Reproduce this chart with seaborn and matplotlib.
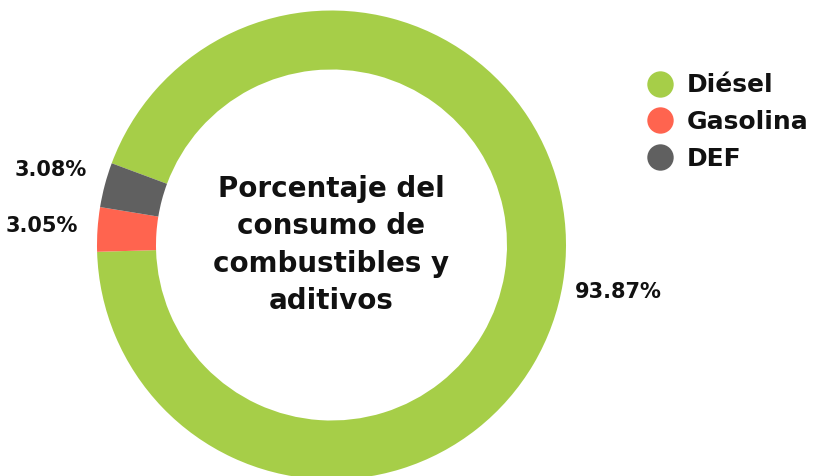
import matplotlib
matplotlib.use("Agg")
import matplotlib.pyplot as plt
from matplotlib.lines import Line2D
import seaborn as sns

# ── data ─────────────────────────────────────────────
categorias = ["Diésel", "Gasolina", "DEF"]
porcentajes = [93.87, 3.05, 3.08]
etiquetas = ["93.87%", "3.05%", "3.08%"]
colores = ["#A6CE48", "#FF644F", "#606060"]
titulo_centro = "Porcentaje del\nconsumo de\ncombustibles y\naditivos"

sns.set_theme(style="white")
plt.rcParams["font.family"] = ["DejaVu Sans"]

W, H = 817, 476
fig = plt.figure(figsize=(W / 100, H / 100), dpi=100)
ax = fig.add_axes([0, 0, 1, 1])

cx, cy, R = 331.5, H - 245, 234.5
wedges, texts = ax.pie(
    porcentajes,
    colors=colores,
    labels=etiquetas,
    labeldistance=1.24,
    startangle=159.6,
    counterclock=False,
    center=(cx, cy),
    radius=R,
    wedgeprops=dict(width=59, linewidth=0),
    textprops=dict(fontsize=15, fontweight="bold", color="#111111"),
)
for t in texts:
    t.set_ha("center")
    t.set_va("center")

ax.text(cx, cy, titulo_centro, ha="center", va="center", multialignment="center",
        fontsize=20, fontweight="bold", color="#111111", linespacing=1.42)

ax.set_xlim(0, W)
ax.set_ylim(0, H)
ax.set_aspect("equal")
ax.axis("off")

handles = [Line2D([0], [0], marker="o", linestyle="", markersize=19,
                  markerfacecolor=c, markeredgewidth=0) for c in colores]
leg = ax.legend(handles, categorias, loc="upper left",
                bbox_to_anchor=(632 / W, 1 - 61 / H), frameon=False,
                prop=dict(size=18, weight="bold"), labelspacing=0.5,
                handletextpad=0.5, handlelength=1.2, borderpad=0)
for t in leg.get_texts():
    t.set_color("#111111")

fig.savefig("out.png", dpi=100)
